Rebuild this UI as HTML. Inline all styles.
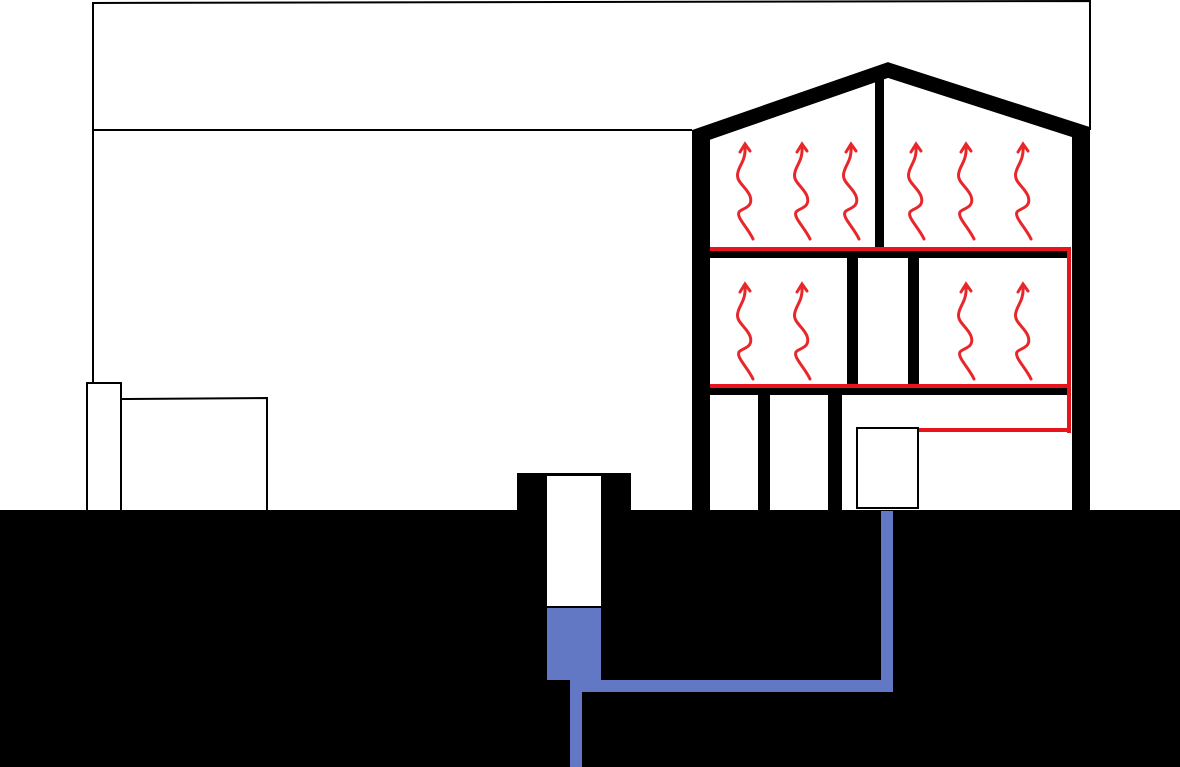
<!DOCTYPE html>
<html><head><style>
html,body{margin:0;padding:0;background:#fff;width:1180px;height:767px;overflow:hidden}
</style></head><body>
<svg width="1180" height="767" viewBox="0 0 1180 767" xmlns="http://www.w3.org/2000/svg">
<defs>
<g id="sq" fill="none" stroke="#e8272b" stroke-width="3" stroke-linecap="round">
<path d="M11 97 C6 86,-6 75,-3 70 C0 66,12 66,8 54 C4 44,-7 40,-4 30 C-2 22,4 18,3 4"/>
<path d="M-2 10 L3 2 L8 9"/>
</g>
</defs>
<rect x="0" y="0" width="1180" height="767" fill="#fff"/>
<polyline points="93,510 93,3 1090,1 1090,130" fill="none" stroke="#000" stroke-width="2"/>
<line x1="93" y1="130" x2="692" y2="130" stroke="#000" stroke-width="2"/>
<rect x="87" y="383" width="34" height="128" fill="#fff" stroke="#000" stroke-width="2"/>
<polyline points="121,399 267,398 267,511" fill="none" stroke="#000" stroke-width="2"/>
<rect x="0" y="510" width="1180" height="257" fill="#000"/>
<rect x="517" y="473" width="114" height="40" fill="#000"/>
<rect x="547" y="476" width="54" height="130" fill="#fff"/>
<rect x="547" y="608" width="54" height="72" fill="#6378c4"/>
<path d="M576 767 L576 686 L887 686 L887 511" fill="none" stroke="#6378c4" stroke-width="12"/>
<rect x="601" y="680" width="4" height="2" fill="#6378c4"/>
<rect x="692" y="130" width="18" height="381" fill="#000"/>
<rect x="1072" y="128" width="18" height="383" fill="#000"/>
<polyline points="695,137 888,70 1087,134" fill="none" stroke="#000" stroke-width="15" stroke-linejoin="miter"/>
<rect x="875" y="70" width="9" height="180" fill="#000"/>
<rect x="710" y="251" width="358" height="7" fill="#000"/>
<rect x="710" y="247" width="361" height="4" fill="#e8131b"/>
<rect x="847" y="258" width="11" height="128" fill="#000"/>
<rect x="908" y="258" width="11" height="128" fill="#000"/>
<rect x="710" y="388" width="358" height="7" fill="#000"/>
<rect x="710" y="384" width="361" height="4" fill="#e8131b"/>
<rect x="758" y="395" width="12" height="116" fill="#000"/>
<rect x="828" y="395" width="14" height="116" fill="#000"/>
<rect x="1067" y="247" width="4" height="186" fill="#e8131b"/>
<rect x="919" y="428" width="152" height="4" fill="#e8131b"/>
<rect x="857" y="428" width="61" height="80" fill="#fff" stroke="#000" stroke-width="2"/>
<use href="#sq" x="742" y="142"/>
<use href="#sq" x="799" y="142"/>
<use href="#sq" x="848" y="142"/>
<use href="#sq" x="913" y="142"/>
<use href="#sq" x="963" y="142"/>
<use href="#sq" x="1020" y="142"/>
<use href="#sq" x="742" y="282"/>
<use href="#sq" x="799" y="282"/>
<use href="#sq" x="963" y="282"/>
<use href="#sq" x="1020" y="282"/>
</svg>
</body></html>
